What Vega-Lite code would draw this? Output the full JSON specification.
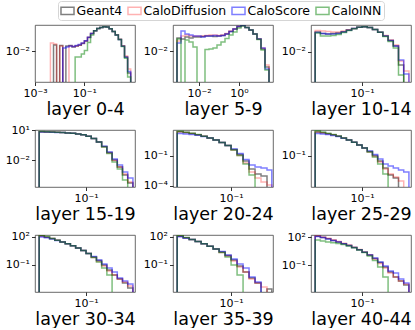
{
"$schema":"https://vega.github.io/schema/vega-lite/v6.json",
"padding":{"left":4,"top":0,"right":2,"bottom":0},
"config":{
 "font":"DejaVu Sans",
 "view":{"stroke":"#444","strokeWidth":0.8},
 "axis":{"domain":false,"grid":false,"tickColor":"#000","tickSize":3.5,"tickWidth":0.8,"labelFontSize":11,"labelColor":"#000","labelFont":"DejaVu Sans","labelPadding":2,"titleFontSize":17.5,"titleFontWeight":"normal","titleColor":"#000","titleFont":"DejaVu Sans","titlePadding":1.5,"labelFlush":false,"labelOverlap":false},
 "legend":{"orient":"none","legendX":23,"legendY":-24,"direction":"horizontal","columns":4,"symbolType":"M-1,-0.55L1,-0.55L1,0.55L-1,0.55Z","symbolSize":170,"symbolStrokeWidth":1.5,"symbolFillColor":"transparent","labelFontSize":12.5,"labelFont":"DejaVu Sans","labelColor":"#000","labelOffset":1.5,"columnPadding":1,"padding":2,"strokeColor":"#d5d5d5","fillColor":"#fff","cornerRadius":3}
},
"datasets":{"d":[
{"p":1,"x":0.00421,"G":1e-6,"D":1e-6,"S":1e-6,"I":1e-6},
{"p":1,"x":0.004217,"G":1e-6,"D":0.022,"S":1e-6,"I":1e-6},
{"p":1,"x":0.005623,"G":0.0181,"D":0.02,"S":1e-6,"I":1e-6},
{"p":1,"x":0.007499,"G":1e-6,"D":1e-6,"S":1e-6,"I":1e-6},
{"p":1,"x":0.01,"G":0.0172,"D":0.0164,"S":1e-6,"I":1e-6},
{"p":1,"x":0.01334,"G":1e-6,"D":1e-6,"S":0.0135,"I":1e-6},
{"p":1,"x":0.01778,"G":0.0164,"D":1e-6,"S":0.0149,"I":1e-6},
{"p":1,"x":0.02371,"G":0.0172,"D":0.0164,"S":0.0164,"I":1e-6},
{"p":1,"x":0.03162,"G":0.0149,"D":0.0157,"S":0.0157,"I":1e-6},
{"p":1,"x":0.04217,"G":0.0164,"D":0.0164,"S":0.0172,"I":0.00566},
{"p":1,"x":0.05623,"G":0.0176,"D":0.0181,"S":0.019,"I":0.00566},
{"p":1,"x":0.07499,"G":0.0209,"D":0.0215,"S":0.022,"I":0.00757},
{"p":1,"x":0.1,"G":0.0267,"D":0.0267,"S":0.0275,"I":0.0106},
{"p":1,"x":0.1334,"G":0.0375,"D":0.038,"S":0.0385,"I":0.0231},
{"p":1,"x":0.1778,"G":0.0552,"D":0.0552,"S":0.0552,"I":0.0478},
{"p":1,"x":0.2371,"G":0.0718,"D":0.072,"S":0.0718,"I":0.0718},
{"p":1,"x":0.3162,"G":0.0897,"D":0.09,"S":0.0897,"I":0.0897},
{"p":1,"x":0.4217,"G":0.0998,"D":0.1,"S":0.0998,"I":0.0998},
{"p":1,"x":0.5623,"G":0.1057,"D":0.106,"S":0.1057,"I":0.1057},
{"p":1,"x":0.7499,"G":0.1028,"D":0.103,"S":0.1028,"I":0.1028},
{"p":1,"x":1,"G":0.0871,"D":0.0875,"S":0.0871,"I":0.0871},
{"p":1,"x":1.334,"G":0.067,"D":0.0675,"S":0.067,"I":0.067},
{"p":1,"x":1.778,"G":0.0478,"D":0.0485,"S":0.0478,"I":0.0475},
{"p":1,"x":2.371,"G":0.0309,"D":0.0315,"S":0.0305,"I":0.0305},
{"p":1,"x":3.162,"G":0.0164,"D":0.017,"S":0.016,"I":0.0157},
{"p":1,"x":4.217,"G":0.00566,"D":0.0062,"S":0.0055,"I":0.005},
{"p":1,"x":5.623,"G":0.0012,"D":0.00177,"S":0.0014,"I":0.000814},
{"p":1,"x":7.499,"G":1e-6,"D":1e-6,"S":1e-6,"I":1e-6},

{"p":2,"x":0.000793,"G":1e-6,"D":1e-6,"S":1e-6,"I":1e-6},
{"p":2,"x":0.0007943,"G":0.0389,"D":0.0287,"S":0.0235,"I":0.0352},
{"p":2,"x":0.001259,"G":0.0352,"D":0.0476,"S":0.0789,"I":1e-6},
{"p":2,"x":0.001995,"G":0.0431,"D":0.0526,"S":0.0582,"I":0.0318},
{"p":2,"x":0.003162,"G":0.0389,"D":0.0476,"S":0.0526,"I":0.0259},
{"p":2,"x":0.005012,"G":0.0431,"D":0.0476,"S":0.0476,"I":0.0157},
{"p":2,"x":0.007943,"G":0.0431,"D":0.0476,"S":0.0476,"I":1e-6},
{"p":2,"x":0.01259,"G":0.0453,"D":0.0476,"S":0.0431,"I":1e-6},
{"p":2,"x":0.01995,"G":0.0476,"D":0.0501,"S":0.0476,"I":0.0122},
{"p":2,"x":0.03162,"G":0.0476,"D":0.0526,"S":0.0476,"I":0.0128},
{"p":2,"x":0.05012,"G":0.0453,"D":0.0526,"S":0.0501,"I":0.0142},
{"p":2,"x":0.07943,"G":0.0476,"D":0.0501,"S":0.0476,"I":0.0192},
{"p":2,"x":0.1259,"G":0.0501,"D":0.0526,"S":0.0501,"I":0.0259},
{"p":2,"x":0.1995,"G":0.0582,"D":0.0612,"S":0.0582,"I":0.037},
{"p":2,"x":0.3162,"G":0.075,"D":0.0789,"S":0.075,"I":0.0526},
{"p":2,"x":0.5012,"G":0.0966,"D":0.0966,"S":0.0966,"I":0.0713},
{"p":2,"x":0.7943,"G":0.1242,"D":0.1242,"S":0.1242,"I":0.1067},
{"p":2,"x":1.259,"G":0.1374,"D":0.1374,"S":0.1374,"I":0.1306},
{"p":2,"x":1.995,"G":0.1122,"D":0.1122,"S":0.1122,"I":0.1122},
{"p":2,"x":3.162,"G":0.0873,"D":0.0873,"S":0.0873,"I":0.0873},
{"p":2,"x":5.012,"G":0.0582,"D":0.0582,"S":0.0582,"I":0.0582},
{"p":2,"x":7.943,"G":0.0352,"D":0.0352,"S":0.0352,"I":0.0334},
{"p":2,"x":12.59,"G":0.0128,"D":0.0142,"S":0.0142,"I":0.0116},
{"p":2,"x":19.95,"G":0.00208,"D":0.00255,"S":0.0017,"I":0.00153},
{"p":2,"x":31.62,"G":1e-6,"D":1e-6,"S":1e-6,"I":1e-6},

{"p":3,"x":0.01258,"G":1e-6,"D":1e-6,"S":1e-6,"I":1e-6},
{"p":3,"x":0.01259,"G":0.0811,"D":0.0949,"S":0.0769,"I":0.073},
{"p":3,"x":0.01585,"G":0.0693,"D":0.09,"S":0.0693,"I":0.0533},
{"p":3,"x":0.01995,"G":0.0658,"D":0.0855,"S":0.0658,"I":0.0533},
{"p":3,"x":0.02512,"G":0.0693,"D":0.0811,"S":0.0658,"I":0.0562},
{"p":3,"x":0.03162,"G":0.073,"D":0.0811,"S":0.0693,"I":0.0624},
{"p":3,"x":0.03981,"G":0.0828,"D":0.09,"S":0.0811,"I":0.0769},
{"p":3,"x":0.05012,"G":0.1,"D":0.1021,"S":0.0979,"I":0.0949},
{"p":3,"x":0.0631,"G":0.117,"D":0.117,"S":0.117,"I":0.115},
{"p":3,"x":0.07943,"G":0.1324,"D":0.1324,"S":0.1324,"I":0.1324},
{"p":3,"x":0.1,"G":0.1396,"D":0.1396,"S":0.1396,"I":0.1396},
{"p":3,"x":0.1259,"G":0.1285,"D":0.1285,"S":0.1285,"I":0.1285},
{"p":3,"x":0.1585,"G":0.1052,"D":0.1052,"S":0.1052,"I":0.1052},
{"p":3,"x":0.1995,"G":0.0785,"D":0.0785,"S":0.0785,"I":0.0785},
{"p":3,"x":0.2512,"G":0.0533,"D":0.0562,"S":0.0533,"I":0.051},
{"p":3,"x":0.3162,"G":0.0333,"D":0.035,"S":0.0333,"I":0.03},
{"p":3,"x":0.3981,"G":0.0187,"D":0.0208,"S":0.0187,"I":0.0152},
{"p":3,"x":0.5012,"G":0.00256,"D":0.0039,"S":0.00433,"I":0.0009},
{"p":3,"x":0.631,"G":1e-6,"D":0.00137,"S":0.001,"I":1e-6},
{"p":3,"x":0.7943,"G":1e-6,"D":1e-6,"S":1e-6,"I":1e-6},

{"p":4,"x":0.01258,"G":1e-6,"D":1e-6,"S":1e-6,"I":1e-6},
{"p":4,"x":0.01259,"G":7.244,"D":7.244,"S":6.918,"I":7.586},
{"p":4,"x":0.01585,"G":6.918,"D":6.918,"S":6.607,"I":7.079},
{"p":4,"x":0.01995,"G":6.607,"D":6.607,"S":6.31,"I":6.607},
{"p":4,"x":0.02512,"G":6.31,"D":6.31,"S":6.026,"I":6.31},
{"p":4,"x":0.03162,"G":5.888,"D":5.888,"S":5.888,"I":5.888},
{"p":4,"x":0.03981,"G":5.495,"D":5.495,"S":5.495,"I":5.495},
{"p":4,"x":0.05012,"G":5.012,"D":5.012,"S":5.012,"I":5.012},
{"p":4,"x":0.0631,"G":4.365,"D":4.365,"S":4.365,"I":4.365},
{"p":4,"x":0.07943,"G":3.548,"D":3.548,"S":3.548,"I":3.548},
{"p":4,"x":0.1,"G":2.512,"D":2.512,"S":2.512,"I":2.512},
{"p":4,"x":0.1259,"G":1.514,"D":1.514,"S":1.514,"I":1.514},
{"p":4,"x":0.1585,"G":0.676,"D":0.676,"S":0.676,"I":0.676},
{"p":4,"x":0.1995,"G":0.24,"D":0.2239,"S":0.2512,"I":0.214},
{"p":4,"x":0.2512,"G":0.0603,"D":0.0537,"S":0.0676,"I":0.0479},
{"p":4,"x":0.3162,"G":0.01072,"D":0.00955,"S":0.0135,"I":0.00676},
{"p":4,"x":0.3981,"G":0.00214,"D":0.00214,"S":0.00339,"I":0.00135},
{"p":4,"x":0.5012,"G":0.000339,"D":0.000427,"S":0.000676,"I":0.000107},
{"p":4,"x":0.631,"G":0.0000537,"D":0.0000676,"S":0.00017,"I":1e-6},
{"p":4,"x":0.7943,"G":1e-6,"D":1e-6,"S":1e-6,"I":1e-6},

{"p":5,"x":0.01258,"G":1e-6,"D":1e-6,"S":1e-6,"I":1e-6},
{"p":5,"x":0.01259,"G":26.3,"D":26.3,"S":17.78,"I":29.51},
{"p":5,"x":0.01585,"G":22.39,"D":22.39,"S":15.85,"I":23.99},
{"p":5,"x":0.01995,"G":17.78,"D":17.78,"S":14.13,"I":18.62},
{"p":5,"x":0.02512,"G":13.18,"D":13.18,"S":11.75,"I":13.8},
{"p":5,"x":0.03162,"G":9.333,"D":9.333,"S":8.913,"I":9.55},
{"p":5,"x":0.03981,"G":6.31,"D":6.31,"S":6.31,"I":6.31},
{"p":5,"x":0.05012,"G":3.981,"D":3.981,"S":3.981,"I":3.981},
{"p":5,"x":0.0631,"G":2.239,"D":2.239,"S":2.239,"I":2.239},
{"p":5,"x":0.07943,"G":1.122,"D":1.122,"S":1.122,"I":1.122},
{"p":5,"x":0.1,"G":0.4467,"D":0.3981,"S":0.5012,"I":0.3981},
{"p":5,"x":0.1259,"G":0.1413,"D":0.1122,"S":0.1778,"I":0.1122},
{"p":5,"x":0.1585,"G":0.03162,"D":0.01995,"S":0.04467,"I":0.01585},
{"p":5,"x":0.1995,"G":0.005012,"D":0.002512,"S":0.01259,"I":0.001259},
{"p":5,"x":0.2512,"G":0.001585,"D":0.000631,"S":0.007943,"I":1e-6},
{"p":5,"x":0.3162,"G":0.001,"D":0.000251,"S":0.00631,"I":1e-6},
{"p":5,"x":0.3981,"G":1e-6,"D":0.000126,"S":0.003981,"I":1e-6},
{"p":5,"x":0.4786,"G":1e-6,"D":1e-6,"S":1e-6,"I":1e-6},

{"p":6,"x":0.01258,"G":1e-6,"D":1e-6,"S":1e-6,"I":1e-6},
{"p":6,"x":0.01259,"G":13.74,"D":13.74,"S":10.04,"I":17.66},
{"p":6,"x":0.01585,"G":11.62,"D":11.62,"S":9.04,"I":13.74},
{"p":6,"x":0.01995,"G":9.64,"D":9.64,"S":7.98,"I":10.69},
{"p":6,"x":0.02512,"G":7.66,"D":7.66,"S":6.75,"I":8.15},
{"p":6,"x":0.03162,"G":5.7,"D":5.7,"S":5.25,"I":5.96},
{"p":6,"x":0.03981,"G":3.92,"D":3.92,"S":3.76,"I":3.92},
{"p":6,"x":0.05012,"G":2.576,"D":2.576,"S":2.576,"I":2.576},
{"p":6,"x":0.0631,"G":1.592,"D":1.592,"S":1.592,"I":1.592},
{"p":6,"x":0.07943,"G":0.904,"D":0.904,"S":0.904,"I":0.904},
{"p":6,"x":0.1,"G":0.483,"D":0.483,"S":0.483,"I":0.483},
{"p":6,"x":0.1259,"G":0.2317,"D":0.2089,"S":0.2576,"I":0.2089},
{"p":6,"x":0.1585,"G":0.1005,"D":0.0815,"S":0.1239,"I":0.0733},
{"p":6,"x":0.1995,"G":0.0318,"D":0.0258,"S":0.0483,"I":0.01694},
{"p":6,"x":0.2512,"G":0.00733,"D":0.00595,"S":0.01694,"I":0.00209},
{"p":6,"x":0.3162,"G":0.00169,"D":0.00209,"S":0.01114,"I":1e-6},
{"p":6,"x":0.3981,"G":0.000904,"D":0.00111,"S":0.00733,"I":1e-6},
{"p":6,"x":0.5012,"G":1e-6,"D":0.000483,"S":0.00483,"I":1e-6},
{"p":6,"x":0.631,"G":1e-6,"D":1e-6,"S":0.00318,"I":1e-6},
{"p":6,"x":0.7943,"G":1e-6,"D":1e-6,"S":1e-6,"I":1e-6},

{"p":7,"x":0.01258,"G":1e-6,"D":1e-6,"S":1e-6,"I":1e-6},
{"p":7,"x":0.01259,"G":123.6,"D":123.6,"S":96.6,"I":147.2},
{"p":7,"x":0.01585,"G":91.9,"D":91.9,"S":79.2,"I":106.6},
{"p":7,"x":0.01995,"G":65,"D":65,"S":58.9,"I":65},
{"p":7,"x":0.02512,"G":43.8,"D":43.8,"S":41.6,"I":43.8},
{"p":7,"x":0.03162,"G":28,"D":28,"S":28,"I":28},
{"p":7,"x":0.03981,"G":17.94,"D":17.94,"S":17.94,"I":17.94},
{"p":7,"x":0.05012,"G":10.94,"D":10.94,"S":10.94,"I":10.94},
{"p":7,"x":0.0631,"G":6.34,"D":6.34,"S":6.34,"I":6.34},
{"p":7,"x":0.07943,"G":3.41,"D":3.41,"S":3.41,"I":3.41},
{"p":7,"x":0.1,"G":1.626,"D":1.626,"S":1.626,"I":1.626},
{"p":7,"x":0.1259,"G":0.683,"D":0.604,"S":0.773,"I":0.604},
{"p":7,"x":0.1585,"G":0.287,"D":0.2244,"S":0.325,"I":0.1982},
{"p":7,"x":0.1995,"G":0.0942,"D":0.0736,"S":0.1208,"I":0.0449},
{"p":7,"x":0.2512,"G":0.0274,"D":0.0213,"S":0.0449,"I":0.00793},
{"p":7,"x":0.3162,"G":0.00793,"D":0.00793,"S":0.01667,"I":1e-6},
{"p":7,"x":0.3981,"G":0.00294,"D":0.00294,"S":0.00377,"I":1e-6},
{"p":7,"x":0.5012,"G":0.00109,"D":0.0014,"S":0.00179,"I":1e-6},
{"p":7,"x":0.631,"G":0.000317,"D":0.00052,"S":0.000853,"I":1e-6},
{"p":7,"x":0.7943,"G":1e-6,"D":1e-6,"S":1e-6,"I":1e-6},

{"p":8,"x":0.01258,"G":1e-6,"D":1e-6,"S":1e-6,"I":1e-6},
{"p":8,"x":0.01259,"G":117.7,"D":117.7,"S":101.4,"I":140},
{"p":8,"x":0.01585,"G":79.2,"D":79.2,"S":71.8,"I":87.5},
{"p":8,"x":0.01995,"G":50.7,"D":50.7,"S":50.7,"I":50.7},
{"p":8,"x":0.02512,"G":30.9,"D":30.9,"S":30.9,"I":30.9},
{"p":8,"x":0.03162,"G":17.94,"D":17.94,"S":17.94,"I":17.94},
{"p":8,"x":0.03981,"G":9.91,"D":9.91,"S":9.91,"I":9.91},
{"p":8,"x":0.05012,"G":4.95,"D":4.95,"S":4.95,"I":4.95},
{"p":8,"x":0.0631,"G":2.356,"D":2.081,"S":2.667,"I":2.081},
{"p":8,"x":0.07943,"G":0.99,"D":0.875,"S":1.119,"I":0.683},
{"p":8,"x":0.1,"G":0.325,"D":0.2536,"S":0.416,"I":0.0942},
{"p":8,"x":0.1259,"G":0.0736,"D":0.0574,"S":0.1208,"I":0.00793},
{"p":8,"x":0.1585,"G":0.01667,"D":0.01667,"S":0.0449,"I":1e-6},
{"p":8,"x":0.1995,"G":0.00377,"D":0.00294,"S":0.00483,"I":1e-6},
{"p":8,"x":0.2512,"G":0.00109,"D":0.00109,"S":0.0014,"I":1e-6},
{"p":8,"x":0.3162,"G":1e-6,"D":0.000406,"S":1e-6,"I":1e-6},
{"p":8,"x":0.3981,"G":0.000248,"D":1e-6,"S":1e-6,"I":1e-6},
{"p":8,"x":0.4786,"G":1e-6,"D":1e-6,"S":1e-6,"I":1e-6},

{"p":9,"x":0.01258,"G":1e-6,"D":1e-6,"S":1e-6,"I":1e-6},
{"p":9,"x":0.01259,"G":132.1,"D":145.9,"S":122.7,"I":51.5},
{"p":9,"x":0.01585,"G":98.2,"D":108.4,"S":93.4,"I":40.3},
{"p":9,"x":0.01995,"G":69.4,"D":78.5,"S":66.1,"I":31.4},
{"p":9,"x":0.02512,"G":46.7,"D":54.2,"S":45.6,"I":25.8},
{"p":9,"x":0.03162,"G":31.4,"D":35.6,"S":31.4,"I":21.1},
{"p":9,"x":0.03981,"G":20.6,"D":23.3,"S":20.6,"I":16.5},
{"p":9,"x":0.05012,"G":13.21,"D":14.96,"S":13.21,"I":11.67},
{"p":9,"x":0.0631,"G":8.05,"D":8.67,"S":8.05,"I":7.48},
{"p":9,"x":0.07943,"G":4.67,"D":4.91,"S":4.67,"I":4.34},
{"p":9,"x":0.1,"G":2.516,"D":2.642,"S":2.516,"I":2.335},
{"p":9,"x":0.1259,"G":1.256,"D":1.256,"S":1.256,"I":0.982},
{"p":9,"x":0.1585,"G":0.528,"D":0.467,"S":0.598,"I":0.322},
{"p":9,"x":0.1995,"G":0.1963,"D":0.1531,"S":0.2223,"I":0.0644},
{"p":9,"x":0.2512,"G":0.0644,"D":0.0503,"S":0.0826,"I":0.00542},
{"p":9,"x":0.3162,"G":0.01869,"D":0.01459,"S":0.0239,"I":1e-6},
{"p":9,"x":0.3981,"G":0.00542,"D":0.00542,"S":0.01459,"I":1e-6},
{"p":9,"x":0.5012,"G":0.00201,"D":0.00201,"S":0.0033,"I":1e-6},
{"p":9,"x":0.631,"G":0.000748,"D":0.000959,"S":0.00123,"I":1e-6},
{"p":9,"x":0.7943,"G":1e-6,"D":1e-6,"S":1e-6,"I":1e-6}
]},
"columns":3,
"spacing":{"row":48,"column":38},
"bounds":"flush",
"resolve":{"scale":{"x":"independent","y":"independent","color":"shared"}},
"concat":[
{"width":100,"height":57,"data":{"name":"d"},"transform":[{"filter":"datum.p==1"},{"fold":["G","D","S","I"],"as":["s","v"]}],
 "mark":{"type":"line","interpolate":"step-after","clip":true,"strokeWidth":1.5},
 "encoding":{
  "x":{"field":"x","type":"quantitative","scale":{"type":"log","domain":[0.001,11.2],"nice":false},"axis":{"values":[0.001,0.1],"title":"layer 0-4","labelExpr":"'10'+replace(replace(replace(replace(replace(replace(toString(round(log(datum.value)/LN10)),'-','⁻'),'0','⁰'),'1','¹'),'2','²'),'3','³'),'4','⁴')"}},
  "y":{"field":"v","type":"quantitative","scale":{"type":"log","domain":[0.000501,0.1259],"nice":false},"axis":{"values":[0.01],"title":null,"labelExpr":"'10'+replace(replace(replace(replace(replace(replace(toString(round(log(datum.value)/LN10)),'-','⁻'),'0','⁰'),'1','¹'),'2','²'),'3','³'),'4','⁴')"}},
  "color":{"field":"s","type":"nominal","scale":{"domain":["G","D","S","I"],"range":["rgba(0,0,0,0.5)","rgba(255,0,0,0.3)","rgba(0,0,255,0.5)","rgba(0,128,0,0.5)"]},"legend":{"title":null,"labelExpr":"datum.label=='G'?'Geant4':datum.label=='D'?'CaloDiffusion':datum.label=='S'?'CaloScore':'CaloINN'"}}}},
{"width":100,"height":57,"data":{"name":"d"},"transform":[{"filter":"datum.p==2"},{"fold":["G","D","S","I"],"as":["s","v"]}],
 "mark":{"type":"line","interpolate":"step-after","clip":true,"strokeWidth":1.5},
 "encoding":{
  "x":{"field":"x","type":"quantitative","scale":{"type":"log","domain":[0.0005012,50.12],"nice":false},"axis":{"values":[0.01,1],"title":"layer 5-9","labelExpr":"'10'+replace(replace(replace(replace(replace(replace(toString(round(log(datum.value)/LN10)),'-','⁻'),'0','⁰'),'1','¹'),'2','²'),'3','³'),'4','⁴')"}},
  "y":{"field":"v","type":"quantitative","scale":{"type":"log","domain":[0.000457,0.1445],"nice":false},"axis":{"values":[0.01],"title":null,"labelExpr":"'10'+replace(replace(replace(replace(replace(replace(toString(round(log(datum.value)/LN10)),'-','⁻'),'0','⁰'),'1','¹'),'2','²'),'3','³'),'4','⁴')"}},
  "color":{"field":"s","type":"nominal","scale":{"domain":["G","D","S","I"],"range":["rgba(0,0,0,0.5)","rgba(255,0,0,0.3)","rgba(0,0,255,0.5)","rgba(0,128,0,0.5)"]},"legend":{"title":null,"labelExpr":"datum.label=='G'?'Geant4':datum.label=='D'?'CaloDiffusion':datum.label=='S'?'CaloScore':'CaloINN'"}}}},
{"width":100,"height":57,"data":{"name":"d"},"transform":[{"filter":"datum.p==3"},{"fold":["G","D","S","I"],"as":["s","v"]}],
 "mark":{"type":"line","interpolate":"step-after","clip":true,"strokeWidth":1.5},
 "encoding":{
  "x":{"field":"x","type":"quantitative","scale":{"type":"log","domain":[0.01047,0.871],"nice":false},"axis":{"values":[0.1],"title":"layer 10-14","labelExpr":"'10'+replace(replace(replace(replace(replace(replace(toString(round(log(datum.value)/LN10)),'-','⁻'),'0','⁰'),'1','¹'),'2','²'),'3','³'),'4','⁴')"}},
  "y":{"field":"v","type":"quantitative","scale":{"type":"log","domain":[0.000433,0.1687],"nice":false},"axis":{"values":[0.01],"title":null,"labelExpr":"'10'+replace(replace(replace(replace(replace(replace(toString(round(log(datum.value)/LN10)),'-','⁻'),'0','⁰'),'1','¹'),'2','²'),'3','³'),'4','⁴')"}},
  "color":{"field":"s","type":"nominal","scale":{"domain":["G","D","S","I"],"range":["rgba(0,0,0,0.5)","rgba(255,0,0,0.3)","rgba(0,0,255,0.5)","rgba(0,128,0,0.5)"]},"legend":{"title":null,"labelExpr":"datum.label=='G'?'Geant4':datum.label=='D'?'CaloDiffusion':datum.label=='S'?'CaloScore':'CaloINN'"}}}},
{"width":100,"height":57,"data":{"name":"d"},"transform":[{"filter":"datum.p==4"},{"fold":["G","D","S","I"],"as":["s","v"]}],
 "mark":{"type":"line","interpolate":"step-after","clip":true,"strokeWidth":1.5},
 "encoding":{
  "x":{"field":"x","type":"quantitative","scale":{"type":"log","domain":[0.01047,0.871],"nice":false},"axis":{"values":[0.1],"title":"layer 15-19","labelExpr":"'10'+replace(replace(replace(replace(replace(replace(toString(round(log(datum.value)/LN10)),'-','⁻'),'0','⁰'),'1','¹'),'2','²'),'3','³'),'4','⁴')"}},
  "y":{"field":"v","type":"quantitative","scale":{"type":"log","domain":[0.0000214,10.72],"nice":false},"axis":{"values":[10,0.01],"title":null,"labelExpr":"'10'+replace(replace(replace(replace(replace(replace(toString(round(log(datum.value)/LN10)),'-','⁻'),'0','⁰'),'1','¹'),'2','²'),'3','³'),'4','⁴')"}},
  "color":{"field":"s","type":"nominal","scale":{"domain":["G","D","S","I"],"range":["rgba(0,0,0,0.5)","rgba(255,0,0,0.3)","rgba(0,0,255,0.5)","rgba(0,128,0,0.5)"]},"legend":{"title":null,"labelExpr":"datum.label=='G'?'Geant4':datum.label=='D'?'CaloDiffusion':datum.label=='S'?'CaloScore':'CaloINN'"}}}},
{"width":100,"height":57,"data":{"name":"d"},"transform":[{"filter":"datum.p==5"},{"fold":["G","D","S","I"],"as":["s","v"]}],
 "mark":{"type":"line","interpolate":"step-after","clip":true,"strokeWidth":1.5},
 "encoding":{
  "x":{"field":"x","type":"quantitative","scale":{"type":"log","domain":[0.01072,0.5012],"nice":false},"axis":{"values":[0.1],"title":"layer 20-24","labelExpr":"'10'+replace(replace(replace(replace(replace(replace(toString(round(log(datum.value)/LN10)),'-','⁻'),'0','⁰'),'1','¹'),'2','²'),'3','³'),'4','⁴')"}},
  "y":{"field":"v","type":"quantitative","scale":{"type":"log","domain":[0.0000794,39.81],"nice":false},"axis":{"values":[0.1,0.0001],"title":null,"labelExpr":"'10'+replace(replace(replace(replace(replace(replace(toString(round(log(datum.value)/LN10)),'-','⁻'),'0','⁰'),'1','¹'),'2','²'),'3','³'),'4','⁴')"}},
  "color":{"field":"s","type":"nominal","scale":{"domain":["G","D","S","I"],"range":["rgba(0,0,0,0.5)","rgba(255,0,0,0.3)","rgba(0,0,255,0.5)","rgba(0,128,0,0.5)"]},"legend":{"title":null,"labelExpr":"datum.label=='G'?'Geant4':datum.label=='D'?'CaloDiffusion':datum.label=='S'?'CaloScore':'CaloINN'"}}}},
{"width":100,"height":57,"data":{"name":"d"},"transform":[{"filter":"datum.p==6"},{"fold":["G","D","S","I"],"as":["s","v"]}],
 "mark":{"type":"line","interpolate":"step-after","clip":true,"strokeWidth":1.5},
 "encoding":{
  "x":{"field":"x","type":"quantitative","scale":{"type":"log","domain":[0.01047,0.871],"nice":false},"axis":{"values":[0.1],"title":"layer 25-29","labelExpr":"'10'+replace(replace(replace(replace(replace(replace(toString(round(log(datum.value)/LN10)),'-','⁻'),'0','⁰'),'1','¹'),'2','²'),'3','³'),'4','⁴')"}},
  "y":{"field":"v","type":"quantitative","scale":{"type":"log","domain":[0.000138,20.89],"nice":false},"axis":{"values":[0.1],"title":null,"labelExpr":"'10'+replace(replace(replace(replace(replace(replace(toString(round(log(datum.value)/LN10)),'-','⁻'),'0','⁰'),'1','¹'),'2','²'),'3','³'),'4','⁴')"}},
  "color":{"field":"s","type":"nominal","scale":{"domain":["G","D","S","I"],"range":["rgba(0,0,0,0.5)","rgba(255,0,0,0.3)","rgba(0,0,255,0.5)","rgba(0,128,0,0.5)"]},"legend":{"title":null,"labelExpr":"datum.label=='G'?'Geant4':datum.label=='D'?'CaloDiffusion':datum.label=='S'?'CaloScore':'CaloINN'"}}}},
{"width":100,"height":57,"data":{"name":"d"},"transform":[{"filter":"datum.p==7"},{"fold":["G","D","S","I"],"as":["s","v"]}],
 "mark":{"type":"line","interpolate":"step-after","clip":true,"strokeWidth":1.5},
 "encoding":{
  "x":{"field":"x","type":"quantitative","scale":{"type":"log","domain":[0.01047,0.871],"nice":false},"axis":{"values":[0.1],"title":"layer 30-34","labelExpr":"'10'+replace(replace(replace(replace(replace(replace(toString(round(log(datum.value)/LN10)),'-','⁻'),'0','⁰'),'1','¹'),'2','²'),'3','³'),'4','⁴')"}},
  "y":{"field":"v","type":"quantitative","scale":{"type":"log","domain":[0.0001175,158.5],"nice":false},"axis":{"values":[100,0.1],"title":null,"labelExpr":"'10'+replace(replace(replace(replace(replace(replace(toString(round(log(datum.value)/LN10)),'-','⁻'),'0','⁰'),'1','¹'),'2','²'),'3','³'),'4','⁴')"}},
  "color":{"field":"s","type":"nominal","scale":{"domain":["G","D","S","I"],"range":["rgba(0,0,0,0.5)","rgba(255,0,0,0.3)","rgba(0,0,255,0.5)","rgba(0,128,0,0.5)"]},"legend":{"title":null,"labelExpr":"datum.label=='G'?'Geant4':datum.label=='D'?'CaloDiffusion':datum.label=='S'?'CaloScore':'CaloINN'"}}}},
{"width":100,"height":57,"data":{"name":"d"},"transform":[{"filter":"datum.p==8"},{"fold":["G","D","S","I"],"as":["s","v"]}],
 "mark":{"type":"line","interpolate":"step-after","clip":true,"strokeWidth":1.5},
 "encoding":{
  "x":{"field":"x","type":"quantitative","scale":{"type":"log","domain":[0.01072,0.5012],"nice":false},"axis":{"values":[0.1],"title":"layer 35-39","labelExpr":"'10'+replace(replace(replace(replace(replace(replace(toString(round(log(datum.value)/LN10)),'-','⁻'),'0','⁰'),'1','¹'),'2','²'),'3','³'),'4','⁴')"}},
  "y":{"field":"v","type":"quantitative","scale":{"type":"log","domain":[0.0001175,158.5],"nice":false},"axis":{"values":[100,0.1],"title":null,"labelExpr":"'10'+replace(replace(replace(replace(replace(replace(toString(round(log(datum.value)/LN10)),'-','⁻'),'0','⁰'),'1','¹'),'2','²'),'3','³'),'4','⁴')"}},
  "color":{"field":"s","type":"nominal","scale":{"domain":["G","D","S","I"],"range":["rgba(0,0,0,0.5)","rgba(255,0,0,0.3)","rgba(0,0,255,0.5)","rgba(0,128,0,0.5)"]},"legend":{"title":null,"labelExpr":"datum.label=='G'?'Geant4':datum.label=='D'?'CaloDiffusion':datum.label=='S'?'CaloScore':'CaloINN'"}}}},
{"width":100,"height":57,"data":{"name":"d"},"transform":[{"filter":"datum.p==9"},{"fold":["G","D","S","I"],"as":["s","v"]}],
 "mark":{"type":"line","interpolate":"step-after","clip":true,"strokeWidth":1.5},
 "encoding":{
  "x":{"field":"x","type":"quantitative","scale":{"type":"log","domain":[0.01047,0.871],"nice":false},"axis":{"values":[0.1],"title":"layer 40-44","labelExpr":"'10'+replace(replace(replace(replace(replace(replace(toString(round(log(datum.value)/LN10)),'-','⁻'),'0','⁰'),'1','¹'),'2','²'),'3','³'),'4','⁴')"}},
  "y":{"field":"v","type":"quantitative","scale":{"type":"log","domain":[0.0001318,177.8],"nice":false},"axis":{"values":[100,0.1],"title":null,"labelExpr":"'10'+replace(replace(replace(replace(replace(replace(toString(round(log(datum.value)/LN10)),'-','⁻'),'0','⁰'),'1','¹'),'2','²'),'3','³'),'4','⁴')"}},
  "color":{"field":"s","type":"nominal","scale":{"domain":["G","D","S","I"],"range":["rgba(0,0,0,0.5)","rgba(255,0,0,0.3)","rgba(0,0,255,0.5)","rgba(0,128,0,0.5)"]},"legend":{"title":null,"labelExpr":"datum.label=='G'?'Geant4':datum.label=='D'?'CaloDiffusion':datum.label=='S'?'CaloScore':'CaloINN'"}}}}
]
}
